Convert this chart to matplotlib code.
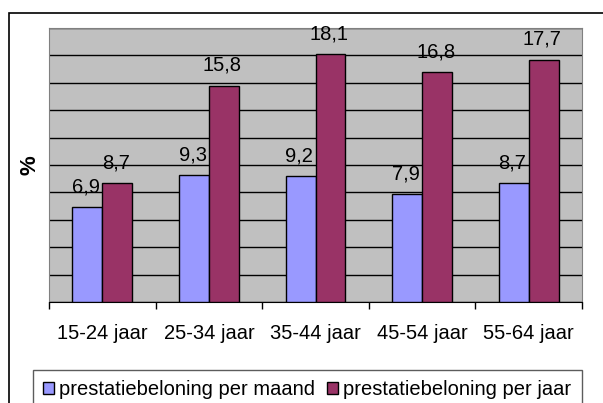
import matplotlib.pyplot as plt
import matplotlib.patches as mpatches
import numpy as np

plt.rcParams['font.family'] = ['Liberation Sans', 'DejaVu Sans']

# data
categories = ['15-24 jaar', '25-34 jaar', '35-44 jaar', '45-54 jaar', '55-64 jaar']
per_maand = [6.9, 9.3, 9.2, 7.9, 8.7]
per_jaar = [8.7, 15.8, 18.1, 16.8, 17.7]
series_names = ['prestatiebeloning per maand', 'prestatiebeloning per jaar']

fs = 14.5

fig = plt.figure(figsize=(6.03, 4.03), dpi=100)
ax = fig.add_axes([49 / 603, 101 / 403, 533 / 603, 274 / 403])

# outer chart border (top/left visible)
fig.patches.append(mpatches.Rectangle((9 / 603, -0.1), 1.2, (403 - 13) / 403 + 0.1,
                                      transform=fig.transFigure, fill=False,
                                      edgecolor='black', linewidth=1.2))

x = np.arange(len(categories))
w = 0.28
ax.set_facecolor('#c0c0c0')
b1 = ax.bar(x - w / 2, per_maand, w, color='#9999ff', edgecolor='black', linewidth=1, zorder=3)
b2 = ax.bar(x + w / 2, per_jaar, w, color='#993366', edgecolor='black', linewidth=1, zorder=3)

for bars, vals in ((b1, per_maand), (b2, per_jaar)):
    for r, v in zip(bars, vals):
        ax.annotate(f'{v:.1f}'.replace('.', ','), (r.get_x() + r.get_width() / 2, v),
                    xytext=(-1, 10.5), textcoords='offset points', ha='center', va='baseline',
                    fontsize=fs, zorder=4, annotation_clip=False)

ax.set_ylim(0, 20)
ax.set_xlim(-0.5, len(categories) - 0.5)
ax.set_yticks(np.arange(0, 21, 2))
ax.yaxis.grid(True, color='black', linewidth=1, zorder=0)
ax.tick_params(axis='y', length=0, labelleft=False)

ax.set_xticks(x)
ax.set_xticklabels(categories, fontsize=fs)
ax.tick_params(axis='x', length=0, pad=16)
ax.set_xticks(np.arange(-0.5, len(categories)), minor=True)
ax.tick_params(axis='x', which='minor', length=5, width=1, color='black', direction='out')

for s in ('top', 'right', 'left'):
    ax.spines[s].set_color('#808080')
ax.spines['bottom'].set_color('black')

ax.set_ylabel('%', fontsize=16, fontweight='bold', labelpad=6)

handles = [mpatches.Patch(facecolor='#9999ff', edgecolor='black'),
           mpatches.Patch(facecolor='#993366', edgecolor='black')]
leg = fig.legend(handles, series_names, loc='upper left',
                 bbox_to_anchor=(33 / 603, 1 - 370 / 403),
                 ncol=2, fontsize=fs, frameon=True, fancybox=False,
                 handlelength=0.55, handleheight=0.55, handletextpad=0.25,
                 columnspacing=0.6, borderpad=0.5, borderaxespad=0)
leg.get_frame().set_edgecolor('#333333')
leg.get_frame().set_linewidth(1)

plt.savefig('out.png', dpi=100)
